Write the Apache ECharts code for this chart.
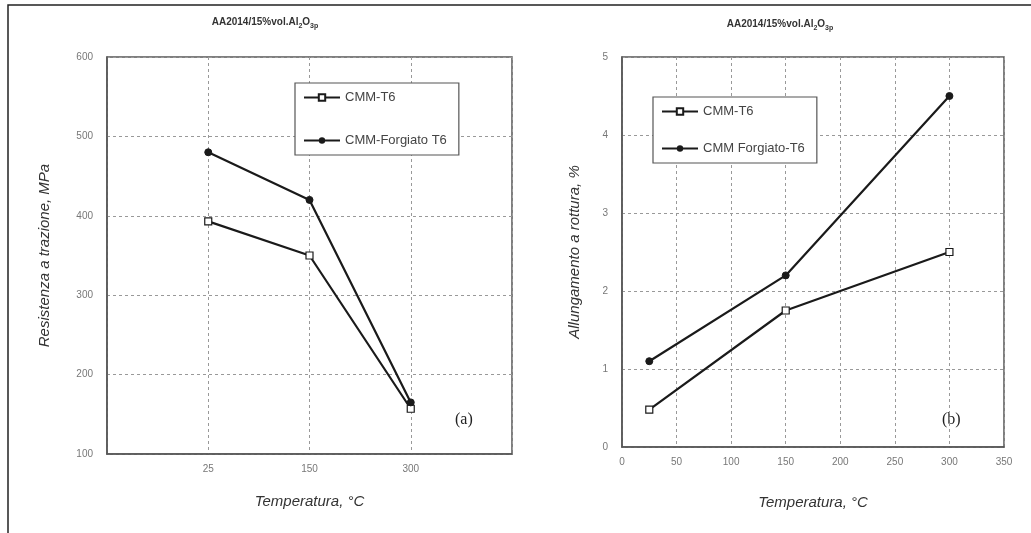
<!DOCTYPE html>
<html>
<head>
<meta charset="utf-8">
<script src="https://cdn.jsdelivr.net/npm/echarts@6/dist/echarts.min.js"></script>
<style>
html,body{margin:0;padding:0;background:#fff;}
#chart{width:1031px;height:533px;}
</style>
</head>
<body>
<div id="chart"></div>
<script>
// panel (a): tensile strength vs temperature (categorical positions)
var tempCats = ['25', '150', '300'];
var resT6 = [393, 350, 157];
var resForg = [480, 420, 165];

// panel (b): elongation vs temperature
var tempVals = [25, 150, 300];
var allT6 = [0.48, 1.75, 2.5];
var allForg = [1.1, 2.2, 4.5];

function pairs(xs, ys){
	var out = [];
	for (var i = 0; i < ys.length; i++) out.push([xs[i], ys[i]]);
	return out;
}
var catPos = tempCats.map(function(c, i){ return i + 1; });

var dom = document.getElementById('chart');
var myChart = echarts.init(dom, null, {renderer: 'canvas'});

var lineCol = '#1a1a1a';
var gridLine = {show: true, lineStyle: {color: '#999', type: [3, 3], width: 1}};
var axisLine = {show: true, onZero: false, lineStyle: {color: '#555', width: 1.5}};
var tickLbl = {color: '#777', fontSize: 10, fontFamily: 'Liberation Sans'};
var nameStyle = {color: '#333', fontSize: 15, fontStyle: 'italic', fontFamily: 'Liberation Sans'};
var titleRich = {
	b: {fontSize: 10, fontWeight: 'bold', color: '#333', fontFamily: 'Liberation Sans'},
	s: {fontSize: 7, fontWeight: 'bold', color: '#333', fontFamily: 'Liberation Sans', padding: [8, 0, 0, 0]}
};

function t6(name, xi, yi, data){
	return {
		name: name, type: 'line', xAxisIndex: xi, yAxisIndex: yi, data: data,
		symbol: 'rect', symbolSize: 7,
		itemStyle: {color: '#fff', borderColor: lineCol, borderWidth: 1.2},
		lineStyle: {color: lineCol, width: 2.2},
		animation: false, z: 3
	};
}
function forg(name, xi, yi, data){
	return {
		name: name, type: 'line', xAxisIndex: xi, yAxisIndex: yi, data: data,
		symbol: 'circle', symbolSize: 7,
		itemStyle: {color: lineCol, borderColor: lineCol},
		lineStyle: {color: lineCol, width: 2.2},
		animation: false, z: 3
	};
}

var option = {
	backgroundColor: '#fff',
	animation: false,
	title: [
		{text: '{b|AA2014/15%vol.Al}{s|2}{b|O}{s|3p}', left: 260, top: 10, textAlign: 'center',
			textStyle: {rich: titleRich}},
		{text: '{b|AA2014/15%vol.Al}{s|2}{b|O}{s|3p}', left: 775, top: 12, textAlign: 'center',
			textStyle: {rich: titleRich}}
	],
	legend: [
		{data: ['CMM-T6', 'CMM-Forgiato T6'], orient: 'vertical', left: 295, top: 83,
			padding: [8, 12, 8, 8], itemGap: 30, itemWidth: 36, itemHeight: 8,
			borderColor: '#555', borderWidth: 1.2, backgroundColor: '#fff',
			textStyle: {color: '#444', fontSize: 13, fontFamily: 'Liberation Sans'}},
		{data: ['CMM-T6', 'CMM Forgiato-T6'], orient: 'vertical', left: 653, top: 97,
			padding: [8, 12, 8, 8], itemGap: 24, itemWidth: 36, itemHeight: 8,
			borderColor: '#555', borderWidth: 1.2, backgroundColor: '#fff',
			textStyle: {color: '#444', fontSize: 13, fontFamily: 'Liberation Sans'}}
	],
	grid: [
		{left: 107, top: 57, width: 405, height: 397, show: true, borderColor: '#555', borderWidth: 1.5},
		{left: 622, top: 57, width: 382, height: 390, show: true, borderColor: '#555', borderWidth: 1.5}
	],
	xAxis: [
		{type: 'value', gridIndex: 0, min: 0, max: 4, interval: 1,
			axisLine: axisLine, axisTick: {show: false}, splitLine: gridLine,
			axisLabel: Object.assign({margin: 10, formatter: function(v){
				return (v >= 1 && v <= tempCats.length) ? tempCats[v - 1] : '';
			}}, tickLbl),
			name: 'Temperatura, °C', nameLocation: 'middle', nameGap: 40, nameTextStyle: nameStyle},
		{type: 'value', gridIndex: 1, min: 0, max: 350, interval: 50,
			axisLine: axisLine, axisTick: {show: false}, splitLine: gridLine,
			axisLabel: Object.assign({margin: 10}, tickLbl),
			name: 'Temperatura, °C', nameLocation: 'middle', nameGap: 48, nameTextStyle: nameStyle}
	],
	yAxis: [
		{type: 'value', gridIndex: 0, min: 100, max: 600, interval: 100,
			axisLine: axisLine, axisTick: {show: false}, splitLine: gridLine,
			axisLabel: Object.assign({margin: 14}, tickLbl),
			name: 'Resistenza a trazione, MPa', nameLocation: 'middle', nameGap: 55, nameTextStyle: nameStyle},
		{type: 'value', gridIndex: 1, min: 0, max: 5, interval: 1,
			axisLine: axisLine, axisTick: {show: false}, splitLine: gridLine,
			axisLabel: Object.assign({margin: 14}, tickLbl),
			name: 'Allungamento a rottura, %', nameLocation: 'middle', nameGap: 40, nameTextStyle: nameStyle}
	],
	graphic: [
		{type: 'rect', shape: {x: 8, y: 5, width: 1040, height: 560}, silent: true,
			style: {fill: 'none', stroke: '#222', lineWidth: 1.5}},
		{type: 'text', left: 455, top: 412, style: {text: '(a)', fontSize: 16, fontFamily: 'Liberation Serif', fill: '#222'}},
		{type: 'text', left: 942, top: 412, style: {text: '(b)', fontSize: 16, fontFamily: 'Liberation Serif', fill: '#222'}}
	],
	series: [
		t6('CMM-T6', 0, 0, pairs(catPos, resT6)),
		forg('CMM-Forgiato T6', 0, 0, pairs(catPos, resForg)),
		t6('CMM-T6', 1, 1, pairs(tempVals, allT6)),
		forg('CMM Forgiato-T6', 1, 1, pairs(tempVals, allForg))
	]
};
myChart.setOption(option, true);
</script>
</body>
</html>
